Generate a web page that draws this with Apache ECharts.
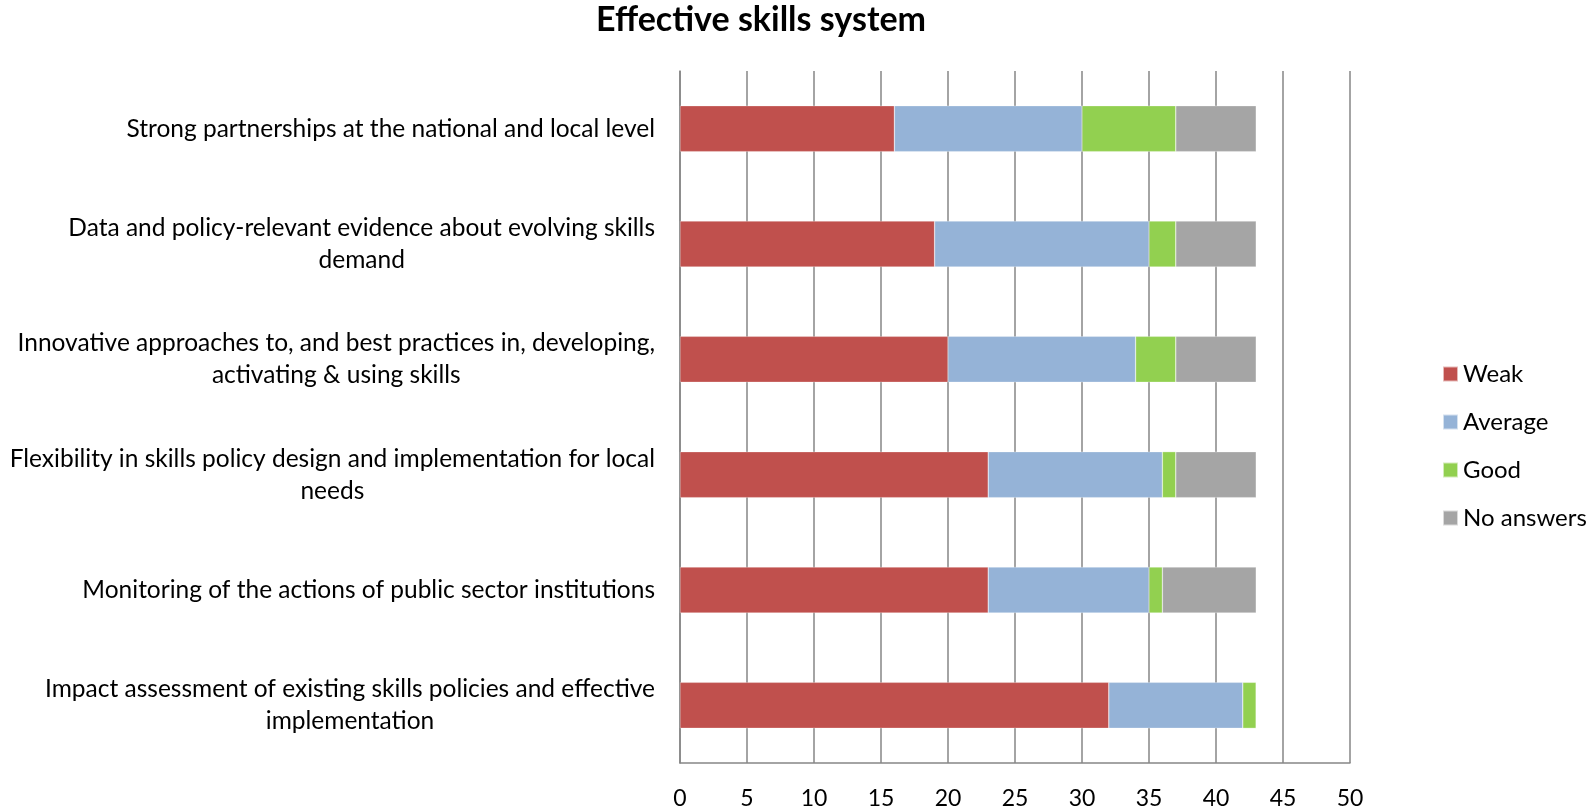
<!DOCTYPE html>
<html>
<head>
<meta charset="utf-8">
<script src="https://cdn.jsdelivr.net/npm/echarts@6/dist/echarts.min.js"></script>
<style>
  html, body { margin: 0; padding: 0; background: #fff; }
  #main { width: 1592px; height: 811px; }
</style>
</head>
<body>
<div id="main"></div>
<script>
// categories listed bottom to top (echarts draws category axis upward)
var categories = [
    'Impact assessment of existing skills policies and effective\nimplementation',
    'Monitoring of the actions of public sector institutions',
    'Flexibility in skills policy design and implementation for local\nneeds',
    'Innovative approaches to, and best practices in, developing,\nactivating & using skills',
    'Data and policy-relevant evidence about evolving skills\ndemand',
    'Strong partnerships at the national and local level'
];
var weak      = [32, 23, 23, 20, 19, 16];
var average   = [10, 12, 13, 14, 16, 14];
var good      = [1, 1, 1, 3, 2, 7];
var noAnswers = [0, 7, 6, 6, 6, 6];

var seriesNames = ['Weak', 'Average', 'Good', 'No answers'];
var colors = ['#C0504D', '#95B3D7', '#92D050', '#A5A5A5'];

var chart = echarts.init(document.getElementById('main'));

var font = 'Lato, "Open Sans", sans-serif';

function bar(name, data, i) {
    return {
        name: name,
        type: 'bar',
        stack: 'total',
        barWidth: 46,
        data: data,
        itemStyle: { color: colors[i], borderColor: 'rgba(255,255,255,0.6)', borderWidth: 0.5 }
    };
}

var option = {
    animation: false,
    title: {
        text: 'Effective skills system',
        left: 756,
        textAlign: 'center',
        top: -2,
        textStyle: { fontFamily: font, fontSize: 34, fontWeight: 'bold', color: '#000' }
    },
    legend: {
        orient: 'vertical',
        left: 1437,
        top: 357,
        itemWidth: 15,
        itemHeight: 15,
        itemGap: 24,
        icon: 'rect',
        textStyle: { fontFamily: font, fontSize: 24, color: '#000' },
        data: seriesNames
    },
    grid: { left: 680, right: 242, top: 71, bottom: 48, containLabel: false, outerBoundsMode: 'none' },
    xAxis: {
        type: 'value',
        min: 0,
        max: 50,
        interval: 5,
        axisLine: { show: true, lineStyle: { color: '#868686', width: 1.5 } },
        axisTick: { show: false },
        splitLine: { show: true, lineStyle: { color: '#868686', width: 1.5 } },
        axisLabel: { fontFamily: font, fontSize: 23, color: '#000', margin: 24 }
    },
    yAxis: {
        type: 'category',
        data: categories,
        axisLine: { show: true, lineStyle: { color: '#868686', width: 1.5 } },
        axisTick: { show: false },
        axisLabel: {
            fontFamily: font, fontSize: 24.5, color: '#000', margin: 25, align: 'right', lineHeight: 32,
            // each line centred inside the right-aligned block
            formatter: function (value) {
                return value.split('\n').map(function (l) { return '{c|' + l + '}'; }).join('\n');
            },
            rich: {
                c: { align: 'center', fontFamily: font, fontSize: 24.5, color: '#000', lineHeight: 32 }
            }
        }
    },
    series: [
        bar(seriesNames[0], weak, 0),
        bar(seriesNames[1], average, 1),
        bar(seriesNames[2], good, 2),
        bar(seriesNames[3], noAnswers, 3)
    ]
};

chart.setOption(option);
</script>
</body>
</html>
